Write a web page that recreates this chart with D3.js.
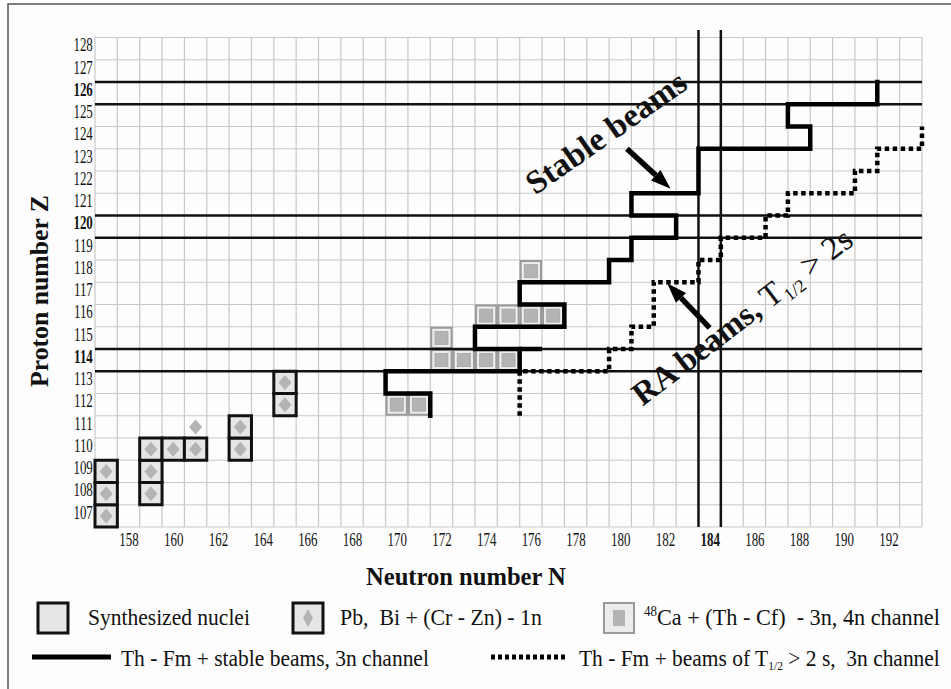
<!DOCTYPE html>
<html>
<head>
<meta charset="utf-8">
<title>Superheavy nuclei</title>
<script src="https://cdn.jsdelivr.net/npm/d3@7"></script>
<style>
  body { margin: 0; background: #fff; }
  svg text { font-family: "Liberation Serif", "Times New Roman", serif; fill: #111; white-space: pre; }
</style>
</head>
<body>
<svg id="chart" width="951" height="689"></svg>
<script>
// nuclei as [N, Z]
var pbBiNuclei = [[157,107],[157,108],[157,109],[159,108],[159,109],[159,110],[160,110],[161,110],
                  [163,110],[163,111],[165,112],[165,113]];
var pbBiLoose = [[161,111]];   // diamond without frame
var caNuclei = [[170,112],[171,112],[172,114],[172,115],[173,114],[174,114],[175,114],
                [174,116],[175,116],[176,116],[177,116],[176,118]];

// stair lines along cell edges, [N, Z]
var stablePath = [[171.5,111.5],[171.5,112.5],[169.5,112.5],[169.5,113.5],[175.5,113.5],[175.5,114.5],
                  [173.5,114.5],[173.5,115.5],[177.5,115.5],[177.5,116.5],[175.5,116.5],[175.5,117.5],
                  [179.5,117.5],[179.5,118.5],[180.5,118.5],[180.5,119.5],[182.5,119.5],[182.5,120.5],
                  [180.5,120.5],[180.5,121.5],[183.5,121.5],[183.5,123.5],[188.5,123.5],[188.5,124.5],
                  [187.5,124.5],[187.5,125.5],[191.5,125.5],[191.5,126.5]];
var stableStub = [[175.5,114.5],[176.5,114.5]];
var raPath = [[175.5,111.5],[175.5,113.5],[179.5,113.5],[179.5,114.5],[180.5,114.5],[180.5,115.5],
              [181.5,115.5],[181.5,117.5],[183.5,117.5],[183.5,118.5],[184.5,118.5],[184.5,119.5],
              [186.5,119.5],[186.5,120.5],[187.5,120.5],[187.5,121.5],[190.5,121.5],[190.5,122.5],
              [191.5,122.5],[191.5,123.5],[193.5,123.5],[193.5,124.5]];

var magicZ = [114, 120, 126];
var magicN = [184];

var xTicks = [158,160,162,164,166,168,170,172,174,176,178,180,182,184,186,188,190,192];
var yTicks = [107,108,109,110,111,112,113,114,115,116,117,118,119,120,121,122,123,124,125,126,127,128];
var boldTicks = [114, 120, 126, 184];

var nRange = [156.5, 193.5];
var zRange = [106.5, 128.5];

var svg = d3.select("#chart");
var x = d3.scaleLinear().domain(nRange).range([95, 922]);
var y = d3.scaleLinear().domain(zRange).range([527, 37.5]);
var cw = x(1) - x(0), ch = y(0) - y(1);

// squeeze a text horizontally to a given width
function fit(t, tx, ty, w, rot) {
  var len = t.node().getComputedTextLength();
  t.attr("transform", "translate(" + tx + "," + ty + ")" + (rot ? " rotate(" + rot + ")" : "") +
    " scale(" + (w / len) + ",1)");
  return t;
}

// frame
svg.append("rect").attr("x", 8).attr("y", 4).attr("width", 960).attr("height", 700)
  .attr("fill", "#fdfdfd").attr("stroke", "#555").attr("stroke-width", 1.5);

// grid
var grid = svg.append("g");
grid.selectAll(".vg").data(d3.range(nRange[0], nRange[1] + 0.1, 1)).enter().append("line")
  .attr("x1", d => x(d)).attr("x2", d => x(d)).attr("y1", y(zRange[0])).attr("y2", y(zRange[1]))
  .attr("stroke", "#c8c8c8").attr("stroke-width", 1.2);
grid.selectAll(".hg").data(d3.range(zRange[0], zRange[1] + 0.1, 1)).enter().append("line")
  .attr("y1", d => y(d)).attr("y2", d => y(d)).attr("x1", x(nRange[0])).attr("x2", x(nRange[1]))
  .attr("stroke", "#c8c8c8").attr("stroke-width", 1.2);

// axes
var xAxis = svg.append("g").attr("transform", "translate(0," + y(zRange[0]) + ")")
  .call(d3.axisBottom(x).tickValues(xTicks).tickSize(0).tickPadding(6));
var yAxis = svg.append("g").attr("transform", "translate(" + x(nRange[0]) + ",0)")
  .call(d3.axisLeft(y).tickValues(yTicks).tickSize(0).tickPadding(3));
[xAxis, yAxis].forEach(function (a) {
  a.select(".domain").remove();
  a.selectAll("text")
    .style("font-family", '"Liberation Serif", serif').style("font-size", "18px").attr("fill", "#111")
    .style("font-weight", d => boldTicks.indexOf(d) >= 0 ? "bold" : "normal")
    .attr("transform", "scale(0.72,1)");
});
yAxis.selectAll("text").attr("dy", "0.12em");

// nuclei boxes
var boxes = svg.append("g");
boxes.selectAll(".pb").data(pbBiNuclei).enter().append("rect")
  .attr("x", d => x(d[0] - 0.5)).attr("y", d => y(d[1] + 0.5)).attr("width", cw).attr("height", ch)
  .attr("fill", "#e6e6e6").attr("stroke", "#111").attr("stroke-width", 3);
boxes.selectAll(".ca").data(caNuclei).enter().append("rect")
  .attr("x", d => x(d[0] - 0.5) + 1).attr("y", d => y(d[1] + 0.5) + 1).attr("width", cw - 2).attr("height", ch - 2)
  .attr("fill", "#ececec").attr("stroke", "#9a9a9a").attr("stroke-width", 2);
boxes.selectAll(".cai").data(caNuclei).enter().append("rect")
  .attr("x", d => x(d[0]) - 6.5).attr("y", d => y(d[1]) - 6.5).attr("width", 13).attr("height", 13)
  .attr("fill", "#b4b4b4").attr("stroke", "#a4a4a4").attr("stroke-width", 0.8);

function diamond(cx, cy, w, h) {
  return "M" + cx + "," + (cy - h / 2) + "L" + (cx + w / 2) + "," + cy + "L" + cx + "," + (cy + h / 2) + "L" + (cx - w / 2) + "," + cy + "Z";
}
boxes.selectAll(".dm").data(pbBiNuclei.concat(pbBiLoose)).enter().append("path")
  .attr("d", d => diamond(x(d[0]), y(d[1]), 13, 15)).attr("fill", "#b4b4b4");

// magic number lines
var magic = svg.append("g").attr("stroke", "#111").attr("stroke-width", 2.5);
magicZ.forEach(function (z) {
  [z - 0.5, z + 0.5].forEach(function (v) {
    magic.append("line").attr("x1", x(nRange[0])).attr("x2", x(nRange[1])).attr("y1", y(v)).attr("y2", y(v));
  });
});
magicN.forEach(function (n) {
  [n - 0.5, n + 0.5].forEach(function (v) {
    magic.append("line").attr("y1", 30).attr("y2", y(zRange[0])).attr("x1", x(v)).attr("x2", x(v));
  });
});

// stair lines
var line = d3.line().x(d => x(d[0])).y(d => y(d[1]));
svg.append("path").attr("d", line(stablePath)).attr("fill", "none").attr("stroke", "#000")
  .attr("stroke-width", 4.5).attr("stroke-linejoin", "miter").attr("stroke-linecap", "square");
svg.append("path").attr("d", line(stableStub)).attr("fill", "none").attr("stroke", "#000").attr("stroke-width", 4.5);
svg.append("path").attr("d", line(raPath)).attr("fill", "none").attr("stroke", "#000")
  .attr("stroke-width", 4.5).attr("stroke-dasharray", "4.5,3.5");

// arrows
function arrow(from, to) {
  var x0 = x(from[0]), y0 = y(from[1]), x1 = x(to[0]), y1 = y(to[1]);
  var a = Math.atan2(y1 - y0, x1 - x0), L = 20, W = 7;
  var bx = x1 - L * Math.cos(a), by = y1 - L * Math.sin(a);
  svg.append("line").attr("x1", x0).attr("y1", y0).attr("x2", bx).attr("y2", by)
    .attr("stroke", "#000").attr("stroke-width", 5.5);
  svg.append("polygon").attr("fill", "#000").attr("points", [
    [x1, y1], [bx + W * Math.sin(a), by - W * Math.cos(a)], [bx - W * Math.sin(a), by + W * Math.cos(a)]
  ].map(p => p.join(",")).join(" "));
}
arrow([180.3, 123.5], [182.25, 121.7]);
arrow([184.0, 115.45], [182.1, 117.45]);

// annotations
fit(svg.append("text").style("font-size", "33px").style("font-weight", "bold").text("Stable beams"),
  x(176.2), y(121.4), 188, -35);
var ra = svg.append("text").style("font-size", "33px");
ra.append("tspan").style("font-weight", "bold").text("RA beams, ");
ra.append("tspan").text("T");
ra.append("tspan").style("font-size", "18px").attr("dy", 6).text("1/2");
ra.append("tspan").attr("dy", -6).text(" > 2s");
fit(ra, x(181.0), y(111.9), 268, -37.5);

// axis titles
fit(svg.append("text").style("font-size", "25px").style("font-weight", "bold").text("Neutron number N"),
  366, 585, 200);
fit(svg.append("text").style("font-size", "25px").style("font-weight", "bold").text("Proton number Z"),
  48, 387, 192, -90);

// legend
var lg = svg.append("g");
lg.append("rect").attr("x", 38).attr("y", 603).attr("width", 30).attr("height", 30)
  .attr("fill", "#e6e6e6").attr("stroke", "#111").attr("stroke-width", 3);
lg.append("rect").attr("x", 293).attr("y", 603).attr("width", 30).attr("height", 30)
  .attr("fill", "#e6e6e6").attr("stroke", "#111").attr("stroke-width", 3);
lg.append("path").attr("d", diamond(308, 618, 10, 18)).attr("fill", "#b4b4b4");
lg.append("rect").attr("x", 604).attr("y", 603).attr("width", 30).attr("height", 30)
  .attr("fill", "#ececec").attr("stroke", "#9a9a9a").attr("stroke-width", 2);
lg.append("rect").attr("x", 613).attr("y", 610).attr("width", 12).attr("height", 16).attr("fill", "#b4b4b4");
lg.append("line").attr("x1", 32).attr("x2", 111).attr("y1", 657).attr("y2", 657)
  .attr("stroke", "#000").attr("stroke-width", 5);
lg.append("line").attr("x1", 491).attr("x2", 567).attr("y1", 657).attr("y2", 657)
  .attr("stroke", "#000").attr("stroke-width", 5).attr("stroke-dasharray", "4,3");

function legendText() { return lg.append("text").style("font-size", "24px"); }
fit(legendText().text("Synthesized nuclei"), 88, 625, 162);
fit(legendText().text("Pb,  Bi + (Cr - Zn) - 1n"), 340, 625, 202);
var t3 = legendText();
t3.append("tspan").style("font-size", "14px").attr("dy", -9).text("48");
t3.append("tspan").attr("dy", 9).text("Ca + (Th - Cf)  - 3n, 4n channel");
fit(t3, 644, 625, 296);
fit(legendText().text("Th - Fm + stable beams, 3n channel"), 121, 666, 308);
var t5 = legendText();
t5.append("tspan").text("Th - Fm + beams of T");
t5.append("tspan").style("font-size", "13px").attr("dy", 4).text("1/2");
t5.append("tspan").attr("dy", -4).text(" > 2 s,  3n channel");
fit(t5, 579, 666, 361);
</script>
</body>
</html>
